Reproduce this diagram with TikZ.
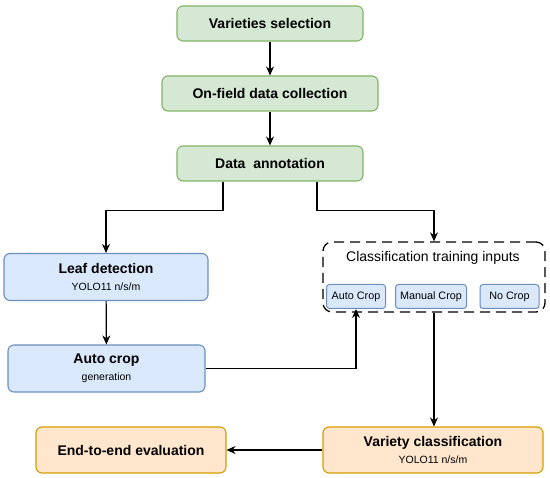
\documentclass[tikz,border=0pt]{standalone}
\usepackage{fontspec}
\setmainfont{Liberation Sans}
\usetikzlibrary{arrows.meta}
\definecolor{gfill}{HTML}{D5E8D4}\definecolor{gdraw}{HTML}{82B366}
\definecolor{bfill}{HTML}{DAE8FC}\definecolor{bdraw}{HTML}{6C8EBF}
\definecolor{ofill}{HTML}{FFE6CC}\definecolor{odraw}{HTML}{D79B00}
\newcommand\mysubfont{\normalfont\fontsize{10.5}{12}\selectfont}
\tikzset{
  box/.style={rounded corners=6pt, line width=1.1pt, inner sep=0pt, align=center, font=\bfseries\fontsize{14}{16}\selectfont},
  gbox/.style={box, fill=gfill, draw=gdraw},
  bbox/.style={box, fill=bfill, draw=bdraw},
  obox/.style={box, fill=ofill, draw=odraw},
  smallbox/.style={rounded corners=3pt, line width=1pt, fill=bfill, draw=bdraw, inner sep=0pt, font=\fontsize{10.8}{12}\selectfont},
  arr/.style={line width=1.2pt, -{Stealth[length=9pt,width=8pt]}},
}
\begin{document}
\begin{tikzpicture}[x=1pt,y=-1pt]
\useasboundingbox (0,0) rectangle (550,478);
\node[gbox, minimum width=186pt, minimum height=35pt] (vs) at (270,23.5) {Varieties selection};
\node[gbox, minimum width=216pt, minimum height=35pt] (of) at (270,93.5) {On-field data collection};
\node[gbox, minimum width=186pt, minimum height=35pt] (da) at (270,163.5) {Data\ \ annotation};
\node[bbox, minimum width=204pt, minimum height=47pt] (ld) at (106,277) {Leaf detection\\[1pt]{\mysubfont YOLO11 n/s/m}};
\node[bbox, minimum width=197pt, minimum height=47pt] (ac) at (106.5,368.5) {Auto crop\\[1pt]{\mysubfont generation}};
\node[draw, rounded corners=9pt, line width=1.3pt, dash pattern=on 10pt off 6pt, minimum width=222pt, minimum height=70pt] (db) at (434,277) {};
\node[font=\fontsize{14}{16}\selectfont] (ct) at (433,258) {Classification training inputs};
\node[smallbox, minimum width=59pt, minimum height=24pt] (b1) at (356,296.5) {Auto Crop};
\node[smallbox, minimum width=71pt, minimum height=24pt] (b2) at (431,296.5) {Manual Crop};
\node[smallbox, minimum width=59pt, minimum height=24pt] (b3) at (509.5,296.5) {No Crop};
\node[obox, minimum width=220pt, minimum height=46pt] (vc) at (433,450) {Variety classification\\[1pt]{\mysubfont YOLO11 n/s/m}};
\node[obox, minimum width=190pt, minimum height=46pt] (ee) at (131,450) {End-to-end evaluation};
\draw[arr] (vs) -- (of);
\draw[arr] (of) -- (da);
\draw[arr] ([xshift=-47pt]da.south) -- ++(0,29) -| (ld.north);
\draw[arr] ([xshift=47pt]da.south) -- ++(0,29) -| (db.north);
\draw[arr] (ld) -- (ac);
\draw[arr] (ac.east) -| (b1.south);
\draw[arr] (db.south) -- (db.south |- vc.north);
\draw[arr] (vc) -- (ee);
\end{tikzpicture}
\end{document}
